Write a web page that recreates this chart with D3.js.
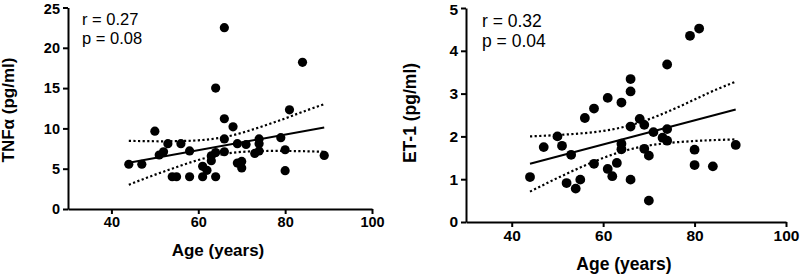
<!DOCTYPE html>
<html>
<head>
<meta charset="utf-8">
<script src="https://cdn.jsdelivr.net/npm/d3@7"></script>
<style>
  body { margin: 0; background: #fff; }
  svg { display: block; font-family: "Liberation Sans", Arial, sans-serif; }
</style>
</head>
<body>
<div id="chart"></div>
<script>
// TNF-alpha vs age
var tnfAge = [44, 47, 50, 51, 52, 53, 54, 55, 56, 58, 58, 61, 61, 62, 63, 63, 64, 64, 64,
              66, 66, 66, 66, 68, 69, 69, 70, 70, 71, 73, 74, 74, 74, 79, 80, 80, 81, 84, 89];
var tnfValue = [5.55, 5.55, 9.65, 6.7, 7.1, 8.1, 4.0, 4.0, 8.1, 7.2, 4.0, 4.0, 5.3, 4.8, 6.0, 6.6, 15.0, 4.0, 7.0,
                22.5, 11.2, 8.7, 7.1, 10.2, 8.1, 5.7, 5.9, 5.1, 8.0, 6.9, 8.7, 8.1, 7.2, 8.85, 7.35, 4.75, 12.3, 18.2, 6.65];

// ET-1 vs age
var et1Age = [44, 47, 50, 51, 52, 53, 54, 55, 56, 58, 58, 61, 61, 62, 63, 64, 64, 64,
              66, 66, 66, 66, 68, 69, 69, 70, 70, 71, 73, 74, 74, 74, 79, 80, 80, 81, 84, 89];
var et1Value = [1.05, 1.75, 2.0, 1.78, 0.91, 1.57, 0.78, 0.99, 2.43, 2.65, 1.36, 2.9, 1.24, 1.07, 1.38, 2.79, 1.83, 1.7,
                3.34, 3.05, 2.23, 0.99, 2.41, 2.27, 1.71, 1.55, 0.5, 2.1, 1.97, 2.17, 1.9, 3.68, 4.35, 1.69, 1.33, 4.52, 1.3, 1.8];

// regression lines and 95% bands
var fitAge = [44, 89];
var tnfFit = [5.75, 10.1];
var et1Fit = [1.36, 2.63];
var bandAge = [44, 48, 52, 56, 60, 64, 68, 72, 76, 80, 84, 89];
var tnfUpper = [8.45, 8.42, 8.4, 8.43, 8.52, 8.75, 9.16, 9.77, 10.48, 11.24, 12.05, 13.0];
var tnfLower = [3.0, 3.85, 4.63, 5.39, 6.08, 6.63, 6.98, 7.15, 7.2, 7.2, 7.17, 7.1];
var et1Upper = [2.0, 2.02, 2.045, 2.078, 2.128, 2.208, 2.327, 2.483, 2.665, 2.862, 3.06, 3.28];
var et1Lower = [0.71, 0.924, 1.127, 1.32, 1.496, 1.642, 1.749, 1.819, 1.863, 1.892, 1.913, 1.93];

var ageTicks = [40, 60, 80, 100];
var tnfTicks = [0, 5, 10, 15, 20, 25];
var et1Ticks = [0, 1, 2, 3, 4, 5];

var svg = d3.select("#chart").append("svg")
  .attr("width", 800)
  .attr("height", 276);

function panel(p) {
  var x = d3.scaleLinear().domain([30, 100]).range(p.xr);
  var y = d3.scaleLinear().domain(p.yd).range(p.yr);
  var g = svg.append("g");

  // axes
  var xa = g.append("g")
    .attr("transform", "translate(0," + p.yr[0] + ")")
    .call(d3.axisBottom(x).tickValues(ageTicks).tickFormat(d3.format("d"))
      .tickSize(5).tickSizeOuter(0).tickPadding(3));
  var ya = g.append("g")
    .attr("transform", "translate(" + p.xr[0] + ",0)")
    .call(d3.axisLeft(y).tickValues(p.ticks).tickFormat(d3.format("d"))
      .tickSize(5).tickSizeOuter(0).tickPadding(3));
  [xa, ya].forEach(function(a) {
    a.select(".domain").attr("stroke", "#000").attr("stroke-width", 2);
    a.selectAll(".tick line").attr("stroke", "#000").attr("stroke-width", 2);
    a.selectAll(".tick text")
      .attr("fill", "#000")
      .style("font-size", p.tick + "px")
      .style("font-weight", "bold")
      .style("font-family", "'Liberation Sans', Arial, sans-serif");
  });
  // keep the top tick label inside the picture
  ya.selectAll(".tick text").attr("dy", function(d) { return d === p.yd[1] ? "0.42em" : "0.32em"; });

  // confidence bands
  var band = d3.line()
    .x(function(d, i) { return x(bandAge[i]); })
    .y(function(d) { return y(d); })
    .curve(d3.curveNatural);
  [p.upper, p.lower].forEach(function(b) {
    g.append("path")
      .attr("d", band(b))
      .attr("fill", "none")
      .attr("stroke", "#000")
      .attr("stroke-width", 2.2)
      .attr("stroke-dasharray", "2.2,2.4");
  });

  // fit line
  g.append("path")
    .attr("d", d3.line()
      .x(function(d, i) { return x(fitAge[i]); })
      .y(function(d) { return y(d); })(p.fit))
    .attr("fill", "none")
    .attr("stroke", "#000")
    .attr("stroke-width", 2);

  // points
  g.selectAll("circle.pt")
    .data(p.vals)
    .enter().append("circle")
    .attr("class", "pt")
    .attr("cx", function(d, i) { return x(p.ages[i]); })
    .attr("cy", function(d) { return y(d); })
    .attr("r", p.r)
    .attr("fill", "#000");

  // titles
  g.append("text")
    .attr("x", (p.xr[0] + p.xr[1]) / 2 - 2)
    .attr("y", p.xTitleY)
    .attr("text-anchor", "middle")
    .style("font-size", p.title + "px")
    .style("font-weight", "bold")
    .text("Age (years)");
  g.append("text")
    .attr("transform", "translate(" + p.yTitleX + "," + p.yTitleY + ") rotate(-90)")
    .attr("text-anchor", "middle")
    .style("font-size", p.title + "px")
    .style("font-weight", "bold")
    .text(p.yLabel);

  // stats
  p.stats.forEach(function(s, i) {
    g.append("text")
      .attr("x", p.statX)
      .attr("y", p.statY[i])
      .style("font-size", p.stat + "px")
      .text(s);
  });
}

panel({
  xr: [68, 372], yd: [0, 25], yr: [209, 7.5], ticks: tnfTicks,
  ages: tnfAge, vals: tnfValue, fit: tnfFit, upper: tnfUpper, lower: tnfLower,
  r: 4.6, tick: 14.5, title: 17, stat: 16.5,
  xTitleY: 256, yTitleX: 14, yTitleY: 110, yLabel: "TNFα (pg/ml)",
  statX: 82, statY: [25, 43.5], stats: ["r = 0.27", "p = 0.08"]
});

panel({
  xr: [466, 786], yd: [0, 5], yr: [222, 8], ticks: et1Ticks,
  ages: et1Age, vals: et1Value, fit: et1Fit, upper: et1Upper, lower: et1Lower,
  r: 4.9, tick: 15.5, title: 17.5, stat: 17.5,
  xTitleY: 270, yTitleX: 416, yTitleY: 113, yLabel: "ET-1 (pg/ml)",
  statX: 482, statY: [27.3, 46.5], stats: ["r = 0.32", "p = 0.04"]
});
</script>
</body>
</html>
